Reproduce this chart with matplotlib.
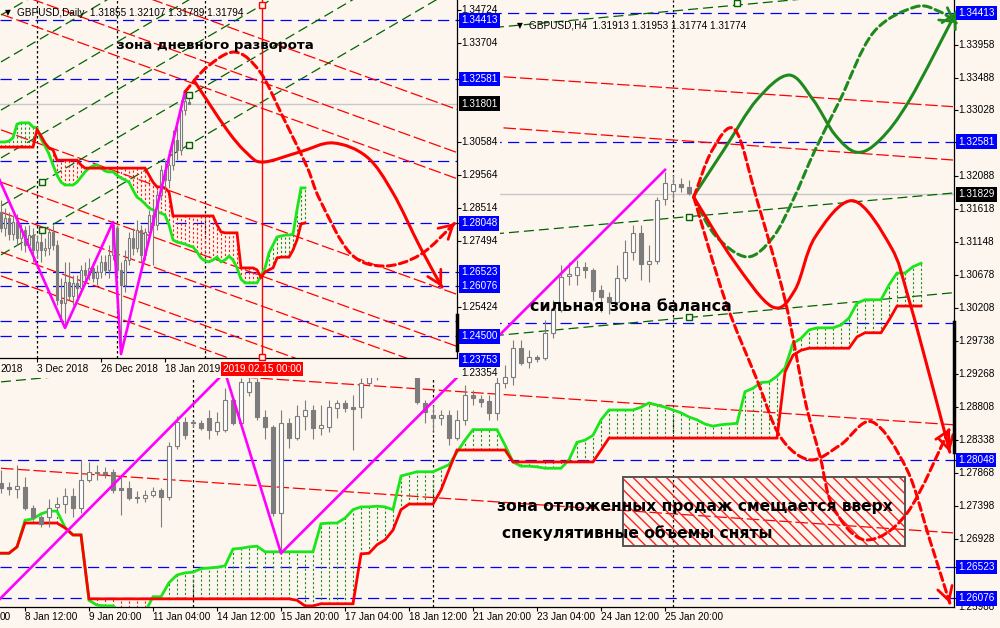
import numpy as np
import matplotlib
matplotlib.use("Agg")
import matplotlib.pyplot as plt
import matplotlib.transforms as mtransforms
from matplotlib.path import Path
from matplotlib.patches import PathPatch, Rectangle

plt.rcParams["font.family"] = ["Liberation Sans", "DejaVu Sans"]
plt.rcParams["hatch.linewidth"] = 1.0

BG = "#fdf6ee"
WICK = "#7c7c7c"
FIG_W, FIG_H = 1000, 628

# ---------------- H4 chart ----------------
h4_open = [1.2772, 1.2767, 1.2764, 1.2767, 1.2737, 1.2724, 1.2724, 1.2738, 1.2742, 1.2754,
           1.2737, 1.2776, 1.2788, 1.2788, 1.2788, 1.2765, 1.2765, 1.2752, 1.2751, 1.2755,
           1.2762, 1.2752, 1.2825, 1.2859, 1.2859, 1.2858, 1.2865, 1.2846, 1.2848, 1.2890,
           1.2858, 1.2902, 1.2916, 1.2866, 1.2852, 1.2729, 1.2858, 1.2836, 1.2868, 1.2876,
           1.2851, 1.2852, 1.2879, 1.2886, 1.2880, 1.2880, 1.2915, 1.2923, 1.2938, 1.2950,
           1.2940, 1.2946, 1.2932, 1.2886, 1.2869, 1.2865, 1.2869, 1.2836, 1.2862, 1.2898,
           1.2892, 1.2889, 1.2872, 1.2915, 1.2923, 1.2964, 1.2945, 1.2952, 1.2950, 1.2986,
           1.3019, 1.3067, 1.3068, 1.3080, 1.3076, 1.3047, 1.3037, 1.3030, 1.3064, 1.3101,
           1.3128, 1.3084, 1.3088, 1.3177, 1.3188, 1.3198, 1.3194]
h4_close = [1.2765, 1.2764, 1.2768, 1.2737, 1.2724, 1.2714, 1.2737, 1.2742, 1.2754, 1.2737,
            1.2776, 1.2788, 1.2786, 1.2785, 1.2762, 1.2762, 1.2751, 1.2750, 1.2755, 1.2761,
            1.2752, 1.2825, 1.2859, 1.2841, 1.2857, 1.2851, 1.2848, 1.2859, 1.2890, 1.2858,
            1.2916, 1.2916, 1.2866, 1.2852, 1.2729, 1.2858, 1.2836, 1.2868, 1.2876, 1.2851,
            1.2855, 1.2880, 1.2886, 1.2879, 1.2878, 1.2915, 1.2923, 1.2938, 1.2950, 1.2940,
            1.2946, 1.2932, 1.2888, 1.2873, 1.2865, 1.2869, 1.2836, 1.2862, 1.2898, 1.2893,
            1.2888, 1.2872, 1.2915, 1.2923, 1.2964, 1.2943, 1.2952, 1.2949, 1.2986, 1.3019,
            1.3066, 1.3070, 1.3080, 1.3076, 1.3046, 1.3037, 1.3030, 1.3064, 1.3101, 1.3128,
            1.3084, 1.3088, 1.3175, 1.3199, 1.3198, 1.3194, 1.3185]
h4_high = [1.2790, 1.2774, 1.2798, 1.2781, 1.2740, 1.2727, 1.2749, 1.2752, 1.2765, 1.2765,
           1.2805, 1.2802, 1.2798, 1.2795, 1.2792, 1.2781, 1.2775, 1.2760, 1.2762, 1.2766,
           1.2765, 1.2830, 1.2868, 1.2866, 1.2862, 1.2862, 1.2876, 1.2873, 1.2907, 1.2895,
           1.2921, 1.2923, 1.2921, 1.2876, 1.2855, 1.2876, 1.2865, 1.2883, 1.2890, 1.2883,
           1.2883, 1.2890, 1.2890, 1.2890, 1.2898, 1.2922, 1.2935, 1.2945, 1.2958, 1.2955,
           1.2952, 1.2950, 1.2940, 1.2890, 1.2883, 1.2876, 1.2876, 1.2876, 1.2912, 1.2905,
           1.2898, 1.2898, 1.2926, 1.2940, 1.2975, 1.2975, 1.2962, 1.2955, 1.3004, 1.3033,
           1.3083, 1.3087, 1.3090, 1.3087, 1.3078, 1.3054, 1.3044, 1.3083, 1.3118, 1.3140,
           1.3140, 1.3111, 1.3179, 1.3215, 1.3211, 1.3207, 1.3204]
h4_low = [1.2758, 1.2755, 1.2751, 1.2734, 1.2720, 1.2710, 1.2710, 1.2733, 1.2729, 1.2724,
          1.2729, 1.2773, 1.2776, 1.2779, 1.2758, 1.2727, 1.2748, 1.2744, 1.2745, 1.2752,
          1.2710, 1.2748, 1.2820, 1.2835, 1.2852, 1.2848, 1.2834, 1.2840, 1.2845, 1.2855,
          1.2855, 1.2896, 1.2862, 1.2834, 1.2725, 1.2673, 1.2822, 1.2833, 1.2848, 1.2834,
          1.2841, 1.2845, 1.2865, 1.2873, 1.2819, 1.2865, 1.2910, 1.2918, 1.2932, 1.2933,
          1.2935, 1.2928, 1.2885, 1.2858, 1.2846, 1.2855, 1.2826, 1.2833, 1.2855, 1.2883,
          1.2880, 1.2862, 1.2862, 1.2908, 1.2912, 1.2940, 1.2936, 1.2945, 1.2947, 1.2979,
          1.3016, 1.3054, 1.3054, 1.3064, 1.3033, 1.3016, 1.3012, 1.3026, 1.3059, 1.3090,
          1.3061, 1.3058, 1.3084, 1.3168, 1.3175, 1.3187, 1.3182]

h4_span_a = [1.2672, 1.2672, 1.2681, 1.2719, 1.2721, 1.2728, 1.2732, 1.2732, 1.2709, 1.2698,
             1.2698, 1.2605, 1.2598, 1.2597, 1.2597, 1.2588, 1.2588, 1.2588, 1.2588, 1.2610,
             1.2610, 1.2630, 1.2641, 1.2644, 1.2645, 1.2650, 1.2651, 1.2652, 1.2654, 1.2678,
             1.2679, 1.2681, 1.2682, 1.2674, 1.2674, 1.2674, 1.2674, 1.2674, 1.2674, 1.2674,
             1.2714, 1.2715, 1.2715, 1.2722, 1.2734, 1.2738, 1.2738, 1.2739, 1.2738, 1.2734,
             1.2782, 1.2785, 1.2788, 1.2788, 1.2788, 1.2793, 1.2798, 1.2816, 1.2833, 1.2848,
             1.2848, 1.2848, 1.2848, 1.2826, 1.2802, 1.2796, 1.2796, 1.2795, 1.2793, 1.2793,
             1.2793, 1.2805, 1.2830, 1.2833, 1.2840, 1.2862, 1.2876, 1.2876, 1.2876, 1.2876,
             1.2880, 1.2886, 1.2883, 1.2880, 1.2876, 1.2872, 1.2866, 1.2862, 1.2856, 1.2853,
             1.2855, 1.2856, 1.2857, 1.2902, 1.2907, 1.2915, 1.2916, 1.2924, 1.2936, 1.2971,
             1.2978, 1.2990, 1.2993, 1.2993, 1.2993, 1.2997, 1.3007, 1.3028, 1.3033, 1.3033,
             1.3033, 1.3054, 1.3071, 1.3071, 1.3080, 1.3085]
h4_span_b = [1.2672, 1.2672, 1.2681, 1.2715, 1.2715, 1.2715, 1.2715, 1.2715, 1.2708, 1.2698,
             1.2698, 1.2607, 1.2607, 1.2607, 1.2607, 1.2607, 1.2607, 1.2607, 1.2607, 1.2607,
             1.2607, 1.2607, 1.2607, 1.2607, 1.2607, 1.2607, 1.2607, 1.2607, 1.2607, 1.2607,
             1.2607, 1.2607, 1.2607, 1.2607, 1.2607, 1.2607, 1.2607, 1.2605, 1.2597, 1.2597,
             1.2600, 1.2600, 1.2600, 1.2600, 1.2600, 1.2671, 1.2672, 1.2684, 1.2691, 1.2705,
             1.2734, 1.2742, 1.2742, 1.2742, 1.2742, 1.2762, 1.2791, 1.2819, 1.2819, 1.2819,
             1.2819, 1.2819, 1.2819, 1.2819, 1.2802, 1.2802, 1.2802, 1.2802, 1.2802, 1.2802,
             1.2802, 1.2802, 1.2802, 1.2802, 1.2802, 1.2819, 1.2836, 1.2836, 1.2836, 1.2836,
             1.2836, 1.2836, 1.2836, 1.2836, 1.2836, 1.2836, 1.2836, 1.2836, 1.2836, 1.2836,
             1.2836, 1.2836, 1.2836, 1.2836, 1.2836, 1.2836, 1.2836, 1.2836, 1.2930, 1.2954,
             1.2961, 1.2964, 1.2964, 1.2964, 1.2964, 1.2964, 1.2964, 1.2980, 1.2986, 1.2986,
             1.2986, 1.3004, 1.3024, 1.3024, 1.3024, 1.3024]

h4_zz_bars = [-3, 28, 35, 83]
h4_zz_prices = [1.2574, 1.2930, 1.2672, 1.3218]

h4_date_bars = [3, 11, 19, 27, 35, 43, 51, 59, 67, 75, 83]
h4_date_labels = ["8 Jan 12:00", "9 Jan 20:00", "11 Jan 04:00", "14 Jan 12:00",
                  "15 Jan 20:00", "17 Jan 04:00", "18 Jan 12:00", "21 Jan 20:00",
                  "23 Jan 04:00", "24 Jan 12:00", "25 Jan 20:00"]
h4_cut_label = "00"          # tail of the label that runs off the left edge
h4_separators = [24, 54, 84]
h4_price_ticks = [1.33958, 1.33488, 1.33028, 1.32088, 1.31618, 1.31148, 1.30678,
                  1.30208, 1.29738, 1.29268, 1.28808, 1.28338, 1.27868, 1.27398, 1.26928]
h4_bottom_tick = 1.25988     # drawn just under the 1.26076 box
h4_blue_levels = [1.34413, 1.32581, 1.30000, 1.28048, 1.26523, 1.26076]
h4_blue_labels = [1.34413, 1.32581, 1.28048, 1.26523, 1.26076]
h4_bid = 1.31829

# trendlines: price at bar 0 and at bar 119
h4_red_p0 = [1.3398, 1.3329, 1.2946, 1.2793]
h4_red_p1 = [1.3308, 1.3232, 1.2855, 1.2701]
h4_green_p0 = [1.3064, 1.2916, 1.3356]
h4_green_p1 = [1.3185, 1.3043, 1.3481]
h4_anchor_bars = [86, 86, 92]
h4_anchor_prices = [1.3151, 1.3008, 1.3456]

# forecast drawings (bar, price)
fc_green_solid = ([86.6, 90.5, 94.5, 98.5, 101.5, 104.25, 107.0, 109.9, 113.6, 119.4],
                  [1.3181, 1.3249, 1.3318, 1.3353, 1.3318, 1.3268, 1.3243, 1.3261, 1.3318, 1.3443])
fc_green_dash = ([86.6, 89.25, 93.25, 96.5, 99.0, 101.75, 104.9, 109.0, 114.25, 117.4, 119.4],
                 [1.3179, 1.3125, 1.3094, 1.3122, 1.3175, 1.3246, 1.3318, 1.3413, 1.3450, 1.3443, 1.3427])
fc_red_solid = ([86.6, 91.5, 96.4, 99.25, 101.75, 106.5, 111.25, 113.4, 116.9, 118.6],
                [1.3179, 1.3090, 1.3023, 1.3047, 1.3122, 1.3174, 1.3108, 1.3037, 1.2890, 1.2816])
fc_red_dash_a = ([86.6, 90.5, 94.5, 97.4, 101.1, 104.9, 108.9, 113.25, 116.1, 118.6],
                 [1.3179, 1.3033, 1.2919, 1.2838, 1.2805, 1.2826, 1.2859, 1.2791, 1.2691, 1.2601])
fc_red_dash_b = ([86.6, 88.9, 91.75, 94.5, 98.0, 100.5, 102.4, 104.0, 108.0, 113.25, 118.6],
                 [1.3179, 1.3246, 1.3275, 1.3175, 1.3033, 1.2890, 1.2809, 1.2738, 1.2691, 1.2729, 1.2850])
zone_bars = (77.75, 113.0)
zone_prices = (1.2682, 1.2781)

# ---------------- Daily chart ----------------
d_open = [1.2840, 1.2790, 1.2822, 1.2771, 1.2809, 1.2759, 1.2784, 1.2737, 1.2768, 1.2721,
          1.2746, 1.2721, 1.2727, 1.2778, 1.2737, 1.2564, 1.2555, 1.2621, 1.2577, 1.2618,
          1.2602, 1.2659, 1.2643, 1.2665, 1.2633, 1.2652, 1.2684, 1.2659, 1.2705, 1.2790,
          1.2659, 1.2611, 1.2690, 1.2759, 1.2727, 1.2784, 1.2705, 1.2778, 1.2831, 1.2800,
          1.2894, 1.2972, 1.2941, 1.2988, 1.3066, 1.3035, 1.3160, 1.3186]
d_close = [1.2790, 1.2822, 1.2771, 1.2809, 1.2759, 1.2784, 1.2737, 1.2768, 1.2721, 1.2746,
           1.2721, 1.2727, 1.2778, 1.2737, 1.2564, 1.2555, 1.2621, 1.2577, 1.2618, 1.2602,
           1.2659, 1.2643, 1.2665, 1.2633, 1.2652, 1.2684, 1.2659, 1.2705, 1.2800, 1.2659,
           1.2611, 1.2690, 1.2759, 1.2727, 1.2784, 1.2705, 1.2778, 1.2831, 1.2800, 1.2894,
           1.2972, 1.2941, 1.2988, 1.3066, 1.3035, 1.3160, 1.3190, 1.3179]
d_high = [1.2878, 1.2853, 1.2840, 1.2831, 1.2834, 1.2803, 1.2797, 1.2800, 1.2790, 1.2768,
          1.2778, 1.2759, 1.2790, 1.2800, 1.2753, 1.2633, 1.2684, 1.2684, 1.2643, 1.2643,
          1.2674, 1.2684, 1.2696, 1.2684, 1.2674, 1.2705, 1.2705, 1.2737, 1.2809, 1.2800,
          1.2684, 1.2721, 1.2778, 1.2790, 1.2815, 1.2800, 1.2790, 1.2847, 1.2878, 1.2909,
          1.2988, 1.3003, 1.3035, 1.3098, 1.3113, 1.3192, 1.3217, 1.3211]
d_low = [1.2778, 1.2765, 1.2753, 1.2753, 1.2737, 1.2721, 1.2715, 1.2721, 1.2684, 1.2696,
         1.2684, 1.2702, 1.2705, 1.2721, 1.2549, 1.2495, 1.2477, 1.2564, 1.2549, 1.2571,
         1.2590, 1.2618, 1.2627, 1.2621, 1.2611, 1.2633, 1.2643, 1.2633, 1.2690, 1.2643,
         1.2395, 1.2590, 1.2674, 1.2705, 1.2715, 1.2684, 1.2690, 1.2762, 1.2674, 1.2784,
         1.2878, 1.2909, 1.2916, 1.2972, 1.3003, 1.3019, 1.3145, 1.3179]

d_span_a = [1.3060, 1.3060, 1.3063, 1.3073, 1.3116, 1.3120, 1.3120, 1.3120, 1.3107, 1.3104,
            1.3070, 1.3047, 1.3022, 1.2988, 1.2956, 1.2934, 1.2925, 1.2925, 1.2925, 1.2934,
            1.2950, 1.2966, 1.2978, 1.2985, 1.2988, 1.2978, 1.2969, 1.2966, 1.2966, 1.2956,
            1.2947, 1.2941, 1.2934, 1.2909, 1.2887, 1.2878, 1.2866, 1.2853, 1.2847, 1.2840,
            1.2837, 1.2831, 1.2800, 1.2753, 1.2746, 1.2743, 1.2740, 1.2734, 1.2731, 1.2715,
            1.2696, 1.2687, 1.2684, 1.2690, 1.2699, 1.2684, 1.2690, 1.2702, 1.2690, 1.2665,
            1.2630, 1.2618, 1.2618, 1.2618, 1.2618, 1.2640, 1.2665, 1.2712, 1.2737, 1.2762,
            1.2765, 1.2768, 1.2768, 1.2771, 1.2847, 1.2916, 1.2916]
d_span_b = [1.3044, 1.3044, 1.3044, 1.3044, 1.3044, 1.3044, 1.3044, 1.3044, 1.3044, 1.3098,
            1.3079, 1.3057, 1.3041, 1.3035, 1.3003, 1.3003, 1.3003, 1.3003, 1.3003, 1.3003,
            1.2988, 1.2978, 1.2978, 1.2978, 1.2978, 1.2978, 1.2978, 1.2978, 1.2978, 1.2978,
            1.2978, 1.2978, 1.2978, 1.2978, 1.2978, 1.2978, 1.2978, 1.2956, 1.2934, 1.2919,
            1.2919, 1.2916, 1.2903, 1.2828, 1.2828, 1.2828, 1.2828, 1.2828, 1.2828, 1.2828,
            1.2828, 1.2828, 1.2828, 1.2828, 1.2800, 1.2778, 1.2775, 1.2775, 1.2775, 1.2775,
            1.2665, 1.2665, 1.2665, 1.2665, 1.2659, 1.2636, 1.2652, 1.2659, 1.2665, 1.2696,
            1.2699, 1.2699, 1.2699, 1.2721, 1.2753, 1.2803, 1.2806]

d_zz_bars = [-6, 16, 28, 30, 46]
d_zz_prices = [1.3101, 1.2477, 1.2809, 1.2395, 1.3217]

d_date_bars = [9, 25, 41]
d_date_labels = ["3 Dec 2018", "26 Dec 2018", "18 Jan 2019"]
d_cut_label = "2018"         # tail of the label that runs off the left edge
d_separators = [9, 29, 51]
d_vline_bar = 65.25
d_price_ticks = [1.34724, 1.33704, 1.30584, 1.29564, 1.28514, 1.27494, 1.25424, 1.23354]
d_blue_levels = [1.34413, 1.32581, 1.30000, 1.28048, 1.26523, 1.26076, 1.25000, 1.24500, 1.23753]
d_blue_labels = [1.34413, 1.32581, 1.28048, 1.26523, 1.26076, 1.24500, 1.23753]
d_bid = 1.31801

# trendlines: price at bar 0 and at bar 114
d_red_p0 = [1.3678, 1.3543, 1.3461, 1.3098, 1.2934, 1.2840, 1.2715, 1.2640]
d_red_p1 = [1.3162, 1.3027, 1.2945, 1.2582, 1.2419, 1.2325, 1.2199, 1.2124]
d_green_p0 = [1.3458, 1.3311, 1.3160, 1.3010, 1.2859, 1.2706]
d_green_p1 = [1.4297, 1.4149, 1.3999, 1.3848, 1.3698, 1.3544]
d_anchor_bars = [10.25, 10.25, 47, 47]
d_anchor_prices = [1.2934, 1.2784, 1.3207, 1.3051]

d_fc_red_solid = ([48.5, 56.5, 61.5, 65.5, 74.75, 83.0, 91.5, 98.0, 104.75, 110.25],
                  [1.3248, 1.3098, 1.3025, 1.2997, 1.3029, 1.3057, 1.3013, 1.2900, 1.2731, 1.2605])
d_fc_red_dash = ([46.0, 51.5, 58.5, 64.75, 70.5, 76.5, 79.75, 87.25, 95.5, 104.75, 113.5],
                 [1.3217, 1.3295, 1.3342, 1.3280, 1.3138, 1.2982, 1.2878, 1.2712, 1.2671, 1.2706, 1.2806])


def rect(x0, y0, x1, y1):
    return [x0 / FIG_W, 1 - y1 / FIG_H, (x1 - x0) / FIG_W, (y1 - y0) / FIG_H]


def candles(ax, o, h, l, c, width, lw, min_h):
    o, h, l, c = (np.asarray(v, float) for v in (o, h, l, c))
    x = np.arange(len(o))
    ax.vlines(x, l, h, color=WICK, lw=lw, zorder=4)
    up = c >= o
    lo = np.minimum(o, c)
    hh = np.maximum(np.abs(c - o), min_h)
    ax.bar(x[up], hh[up], width, lo[up], color="white", edgecolor=WICK, linewidth=lw, zorder=5)
    ax.bar(x[~up], hh[~up], width, lo[~up], color=WICK, edgecolor=WICK, linewidth=lw, zorder=5)


def cloud(ax, a, b, lw_line, lw_hatch):
    a, b = np.asarray(a), np.asarray(b)
    x = np.arange(len(a))
    up = a >= b
    ax.vlines(x[up], b[up], a[up], colors="#1e8f1e", linestyles=(0, (2, 2)), lw=lw_hatch, zorder=2)
    ax.vlines(x[~up], a[~up], b[~up], colors="#ff1a1a", linestyles=(0, (2, 2)), lw=lw_hatch, zorder=2)
    ax.plot(x, a, color="#19e619", lw=lw_line, zorder=3, solid_joinstyle="miter")
    ax.plot(x, b, color="#ff0000", lw=lw_line, zorder=3, solid_joinstyle="miter")


def curve(ax, pts, color, ls, lw=2.2):
    xs, ys = pts
    p = np.column_stack([xs, ys]).astype(float)
    ext = np.vstack([p[0], p, p[-1]])
    verts, codes = [p[0]], [Path.MOVETO]
    for k in range(len(p) - 1):
        p0, p1, p2, p3 = ext[k], ext[k + 1], ext[k + 2], ext[k + 3]
        verts += [p1 + (p2 - p0) / 6, p2 - (p3 - p1) / 6, p2]
        codes += [Path.CURVE4] * 3
    ax.add_patch(PathPatch(Path(verts, codes), fill=False, ec=color, lw=lw, ls=ls,
                           clip_on=False, zorder=8, capstyle="round"))
    tip = p[-1]
    start = tip + (verts[-2] - tip) * 0.1
    ax.annotate("", xy=tip, xytext=start, annotation_clip=False, zorder=9,
                arrowprops=dict(arrowstyle="->,head_length=0.8,head_width=0.45", color=color,
                                lw=lw * 0.9, shrinkA=0, shrinkB=0, mutation_scale=12))


def price_labels(ax, width_px, ticks, blue, black):
    tr = mtransforms.blended_transform_factory(ax.transAxes, ax.transData)
    xo = 1 + 4 / width_px
    for t in ticks:
        ax.text(xo, t, f"{t:.5f}", transform=tr, fontsize=7.2, va="center", ha="left",
                clip_on=False, zorder=10)
    for v in blue:
        ax.text(xo, v, f"{v:.5f}", transform=tr, fontsize=7.2, va="center", ha="left", color="white",
                clip_on=False, zorder=11, bbox=dict(boxstyle="square,pad=0.22", fc="#0000ff", ec="none"))
    ax.text(xo, black, f"{black:.5f}", transform=tr, fontsize=7.2, va="center", ha="left", color="white",
            clip_on=False, zorder=11, bbox=dict(boxstyle="square,pad=0.22", fc="black", ec="none"))
    lo, hi = ax.get_ylim()
    ax.set_yticks([t for t in ticks + blue if lo <= t <= hi])
    ax.yaxis.tick_right()
    ax.tick_params(axis="y", length=3, labelright=False, labelleft=False, color="black")
    return tr, xo


def frame(ax):
    for s in ["left", "top"]:
        ax.spines[s].set_visible(False)
    for s in ["right", "bottom"]:
        ax.spines[s].set_color("black")
        ax.spines[s].set_linewidth(0.9)


fig = plt.figure(figsize=(10, 6.28), dpi=100, facecolor=BG)

# ======== H4 ========
ax = fig.add_axes(rect(0, 0, 954, 607), facecolor=BG)
ax.set_zorder(1)
ax.set_xlim(-0.125, 119.125)
ax.set_ylim(1.25954, 1.34599)
frame(ax)

ax.axhline(h4_bid, color="#c8c8c8", lw=1, zorder=0.5)
for lv in h4_blue_levels:
    ax.axhline(lv, color="#0000ff", lw=0.9, ls=(0, (9, 5)), zorder=1)
for b in h4_separators:
    ax.axvline(b, color="black", lw=0.9, ls=(0, (2, 2)), zorder=1)
for p0, p1 in zip(h4_red_p0, h4_red_p1):
    ax.plot([0, 119], [p0, p1], color="#ff0000", lw=0.9, ls=(0, (10, 3)), zorder=1.5)
for p0, p1 in zip(h4_green_p0, h4_green_p1):
    ax.plot([0, 119], [p0, p1], color="#006400", lw=0.9, ls=(0, (8, 4)), zorder=1.5)
ax.plot(h4_anchor_bars, h4_anchor_prices, ls="none", marker="s", ms=4.5, mfc=BG, mec="#006400",
        mew=1, zorder=6)

cloud(ax, h4_span_a, h4_span_b, 2.0, 0.8)
candles(ax, h4_open, h4_high, h4_low, h4_close, 0.6, 0.8, 0.00004)
ax.plot(h4_zz_bars, h4_zz_prices, color="#ff00ff", lw=1.9, zorder=6)

ax.add_patch(Rectangle((zone_bars[0], zone_prices[0]), zone_bars[1] - zone_bars[0],
                       zone_prices[1] - zone_prices[0], fill=False, hatch="\\\\\\",
                       ec="#ff2020", lw=0, zorder=6))
ax.add_patch(Rectangle((zone_bars[0], zone_prices[0]), zone_bars[1] - zone_bars[0],
                       zone_prices[1] - zone_prices[0], fill=False, ec="#555555", lw=1.4, zorder=6))

dash_fc = (0, (2.6, 1.4))
curve(ax, fc_green_solid, "#1e8a1e", "-")
curve(ax, fc_green_dash, "#1e8a1e", dash_fc)
curve(ax, fc_red_solid, "#ff0000", "-")
curve(ax, fc_red_dash_a, "#ff0000", dash_fc)
curve(ax, fc_red_dash_b, "#ff0000", dash_fc)

tr_right = mtransforms.blended_transform_factory(ax.transAxes, ax.transData)
ax.plot([1.0, 1.0], [1.3001, 1.2816], color="black", lw=2.5, transform=tr_right,
        clip_on=False, zorder=10)

txt = dict(family="DejaVu Sans", weight="bold", color="black", zorder=12)
ax.text(78.75, 1.3024, "сильная зона баланса", fontsize=11.4, ha="center", va="center", **txt)
ax.text(62.0, 1.2739, "зона отложенных продаж смещается вверх", fontsize=11.2, ha="left",
        va="center", **txt)
ax.text(62.6, 1.2701, "спекулятивные объемы сняты", fontsize=11.2, ha="left", va="center", **txt)

tr_lab, x_lab = price_labels(ax, 954, h4_price_ticks, h4_blue_labels, h4_bid)
ax.text(x_lab, 1.2602, f"{h4_bottom_tick:.5f}", transform=tr_lab, fontsize=7.2, va="top",
        ha="left", clip_on=False, zorder=10)
tr_date = mtransforms.blended_transform_factory(ax.transData, ax.transAxes)
for b, lab in zip(h4_date_bars, h4_date_labels):
    ax.text(b, -10 / 607, lab, transform=tr_date, fontsize=7.2, ha="left", va="center",
            clip_on=False)
ax.text(0.0, -10 / 607, h4_cut_label, transform=ax.transAxes, fontsize=7.2, ha="left",
        va="center", clip_on=False)
ax.set_xticks(h4_date_bars)
ax.tick_params(axis="x", length=3, labelbottom=False, color="black")

ax.text(520 / 954, 1 - 26 / 607, "▼", transform=ax.transAxes, fontsize=5.5, ha="center",
        va="center", family="DejaVu Sans", zorder=12)
ax.text(529 / 954, 1 - 26 / 607, "GBPUSD,H4  1.31913 1.31953 1.31774 1.31774",
        transform=ax.transAxes, fontsize=7.2, ha="left", va="center", zorder=12)

# ======== Daily window ========
ax_bg = fig.add_axes(rect(0, 0, 500, 378), facecolor=BG)
ax_bg.set_zorder(2)
ax_bg.set_xticks([])
ax_bg.set_yticks([])
for s in ax_bg.spines.values():
    s.set_visible(False)

axd = fig.add_axes(rect(0, 0, 457, 358), facecolor=BG)
axd.set_zorder(3)
axd.set_xlim(-0.25, 114.0)
axd.set_ylim(1.23825, 1.35053)
frame(axd)

axd.axhline(d_bid, color="#c8c8c8", lw=1, zorder=0.5)
for lv in d_blue_levels:
    axd.axhline(lv, color="#0000ff", lw=0.9, ls=(0, (9, 5)), zorder=1)
for b in d_separators:
    axd.axvline(b, color="black", lw=0.9, ls=(0, (2, 2)), zorder=1)
for p0, p1 in zip(d_red_p0, d_red_p1):
    axd.plot([0, 114], [p0, p1], color="#ff0000", lw=0.9, ls=(0, (10, 3)), zorder=1.5)
for p0, p1 in zip(d_green_p0, d_green_p1):
    axd.plot([0, 114], [p0, p1], color="#006400", lw=0.9, ls=(0, (8, 4)), zorder=1.5)
axd.plot(d_anchor_bars, d_anchor_prices, ls="none", marker="s", ms=4.5, mfc=BG, mec="#006400",
         mew=1, zorder=6)

cloud(axd, d_span_a, d_span_b, 2.0, 0.8)
candles(axd, d_open, d_high, d_low, d_close, 0.6, 0.8, 0.00008)
axd.plot(d_zz_bars, d_zz_prices, color="#ff00ff", lw=1.9, zorder=6)

axd.axvline(d_vline_bar, color="#ff0000", lw=1, zorder=1.6)
axd.plot([d_vline_bar, d_vline_bar], [1.3490, 1.2386], ls="none", marker="s", ms=4.5, mfc=BG,
         mec="#ff0000", mew=1, zorder=7, clip_on=False)

curve(axd, d_fc_red_solid, "#ff0000", "-")
curve(axd, d_fc_red_dash, "#ff0000", dash_fc)

trd = mtransforms.blended_transform_factory(axd.transAxes, axd.transData)
axd.plot([1.0, 1.0], [1.2517, 1.2407], color="black", lw=2.5, transform=trd, clip_on=False, zorder=10)

axd.text(53.5, 1.3364, "зона дневного разворота", fontsize=9.6, ha="center", va="center", **txt)

price_labels(axd, 457, d_price_ticks, d_blue_labels, d_bid)
trd_date = mtransforms.blended_transform_factory(axd.transData, axd.transAxes)
for b, lab in zip(d_date_bars, d_date_labels):
    axd.text(b, -11 / 358, lab, transform=trd_date, fontsize=7.2, ha="left", va="center",
             clip_on=False)
axd.text(0.0, -11 / 358, d_cut_label, transform=axd.transAxes, fontsize=7.2, ha="left",
         va="center", clip_on=False)
axd.set_xticks(d_date_bars)
axd.tick_params(axis="x", length=3, labelbottom=False, color="black")
axd.text(d_vline_bar, -11 / 358, "2019.02.15 00:00", transform=trd_date, fontsize=7.2,
         ha="center", va="center", color="white", clip_on=False, zorder=11,
         bbox=dict(boxstyle="square,pad=0.2", fc="#ff0000", ec="none"))

axd.text(8 / 457, 1 - 13 / 358, "▼", transform=axd.transAxes, fontsize=5.5, ha="center",
         va="center", family="DejaVu Sans", zorder=12)
axd.text(17 / 457, 1 - 13 / 358, "GBPUSD,Daily  1.31855 1.32107 1.31789 1.31794",
         transform=axd.transAxes, fontsize=7.2, ha="left", va="center", zorder=12)

fig.savefig("out.png", dpi=100, facecolor=BG)
